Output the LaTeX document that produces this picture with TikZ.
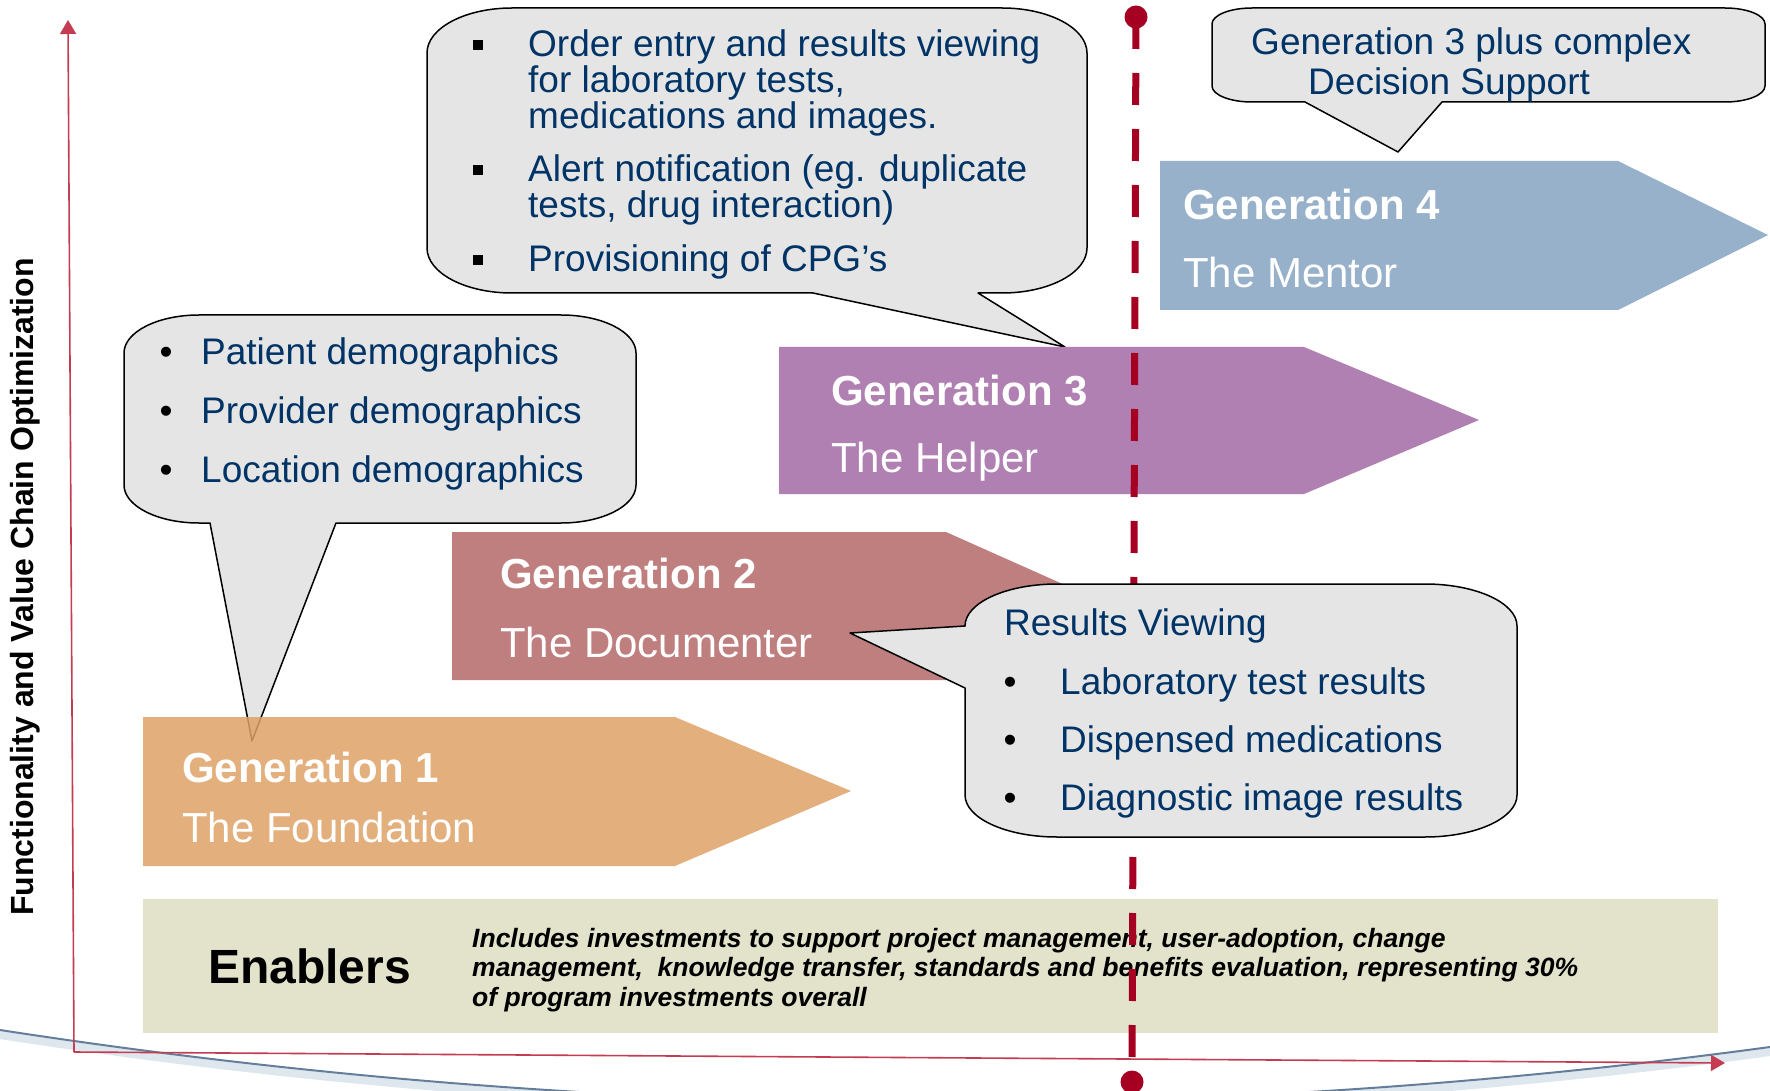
\documentclass[tikz,border=0pt]{standalone}
\usepackage{fontspec}
\setmainfont{Liberation Sans}
\usetikzlibrary{arrows.meta}
\definecolor{navy}{RGB}{0,51,102}
\definecolor{gOrange}{RGB}{223,162,103}
\definecolor{gRose}{RGB}{192,127,127}
\definecolor{gPurple}{RGB}{176,128,178}
\definecolor{gBlue}{RGB}{151,177,203}
\definecolor{bubblefill}{RGB}{229,229,229}
\definecolor{enabfill}{RGB}{227,227,204}
\definecolor{darkred}{RGB}{165,0,33}
\definecolor{axisred}{RGB}{196,60,82}
\definecolor{arcdark}{RGB}{100,125,155}
\definecolor{arclight}{RGB}{200,214,228}
\newcommand{\fsz}[2]{\fontsize{#1}{#2}\selectfont}
% rounded callout, pointer on the bottom edge: L T R B rx ry pointer
\newcommand{\bubbleDown}[7]{%
 \path[bubble] ({#1+#5},#2) -- ({#3-#5},#2) .. controls ({#3-0.448*#5},#2) and (#3,{#2+0.448*#6}) .. (#3,{#2+#6})
 -- (#3,{#4-#6}) .. controls (#3,{#4-0.448*#6}) and ({#3-0.448*#5},#4) .. ({#3-#5},#4)
 -- #7
 -- ({#1+#5},#4) .. controls ({#1+0.448*#5},#4) and (#1,{#4-0.448*#6}) .. (#1,{#4-#6})
 -- (#1,{#2+#6}) .. controls (#1,{#2+0.448*#6}) and ({#1+0.448*#5},#2) .. cycle;}
% rounded callout, pointer on the left edge
\newcommand{\bubbleLeft}[7]{%
 \path[bubble] ({#1+#5},#2) -- ({#3-#5},#2) .. controls ({#3-0.448*#5},#2) and (#3,{#2+0.448*#6}) .. (#3,{#2+#6})
 -- (#3,{#4-#6}) .. controls (#3,{#4-0.448*#6}) and ({#3-0.448*#5},#4) .. ({#3-#5},#4)
 -- ({#1+#5},#4) .. controls ({#1+0.448*#5},#4) and (#1,{#4-0.448*#6}) .. (#1,{#4-#6})
 -- #7
 -- (#1,{#2+#6}) .. controls (#1,{#2+0.448*#6}) and ({#1+0.448*#5},#2) .. cycle;}
\tikzset{
 bubble/.style={fill=bubblefill, draw=black, line width=1.5pt, line join=round},
 btxt/.style={anchor=base west, inner sep=0pt, text=navy, font=\fsz{37}{36}},
 bdot/.style={anchor=base, inner sep=0pt, text=black, font=\fsz{37}{36}},
 sqbul/.style={rectangle, fill=black, minimum size=10pt, inner sep=0pt},
 gentitle/.style={anchor=base west, inner sep=0pt, text=white, font=\fsz{42}{48}\bfseries},
 gensub/.style={anchor=base west, inner sep=0pt, text=white, font=\fsz{42}{48}},
 reddot/.style={circle, fill=darkred, inner sep=0pt, minimum size=23pt},
 dashline/.style={draw=darkred, line width=7pt, dash pattern=on 32pt off 24pt},
 axisline/.style={draw=axisred, line width=1.6pt, -{Triangle[length=14pt,width=16pt]}},
 entxt/.style={anchor=base west, inner sep=0pt, text=black, font=\fsz{26.5}{29}\bfseries\itshape},
}
\begin{document}
\begin{tikzpicture}[x=1pt,y=-1pt]
\useasboundingbox (0,0) rectangle (1770,1091);
\clip (0,0) rectangle (1770,1091);
\fill[white] (0,0) rectangle (1770,1091);

% bottom arc
\draw[line width=8pt, draw=arclight, opacity=0.6] (0,1035) .. controls (590,1126) and (1180,1132) .. (1770,1052);
\draw[line width=2pt, draw=arcdark] (0,1030) .. controls (590,1121) and (1180,1127) .. (1770,1047);

% axes
\coordinate (origin) at (74,1052);
\coordinate (ytip) at (68,20);
\coordinate (xtip) at (1725,1063);
\draw[axisline] (origin) -- (ytip);
\draw[axisline] (origin) -- (xtip);
\node[rotate=90, inner sep=0pt, font=\fsz{32}{36}\bfseries, text=black] (ylabel) at (25,587) {Functionality and Value Chain Optimization};

% enablers band
\fill[enabfill] (143,899) rectangle (1718,1033);
\node[anchor=base west, inner sep=0pt, font=\fsz{48}{50}\bfseries] (enab) at (208,983) {Enablers};
\node[entxt] (en1) at (472,947) {Includes investments to support project management, user-adoption, change};
\node[entxt] (en2) at (472,976) {management,\ \ knowledge transfer, standards and benefits evaluation, representing 30\%};
\node[entxt] (en3) at (472,1006) {of program investments overall};

% callout for generation 1
\bubbleDown{124}{315}{636}{523}{75}{38}{(336,523) -- (252,741) -- (210,523)}
\node[bdot] (ba1) at (166,364) {•};
\node[bdot] (ba2) at (166,423) {•};
\node[bdot] (ba3) at (166,482) {•};
\node[btxt] (ta1) at (201,364) {Patient demographics};
\node[btxt] (ta2) at (201,423) {Provider demographics};
\node[btxt] (ta3) at (201,482) {Location demographics};

% callout for generation 3
\bubbleDown{427}{8}{1087}{293}{85}{45}{(978,293) -- (1065,347) -- (813,293)}
\node[sqbul] (sq1) at (478,45) {};
\node[sqbul] (sq2) at (478,170) {};
\node[sqbul] (sq3) at (478,260) {};
\node[btxt] (tb1) at (528,57) {Order entry and results viewing};
\node[btxt] (tb2) at (528,93) {for laboratory tests,};
\node[btxt] (tb3) at (528,129) {medications and images.};
\node[btxt] (tb4) at (528,182) {Alert notification (eg. duplicate};
\node[btxt] (tb5) at (528,218) {tests, drug interaction)};
\node[btxt] (tb6) at (528,272) {Provisioning of CPG’s};

% generation arrows
\path[fill=gOrange, fill opacity=0.85] (143,717) -- (675,717) -- (851,791) -- (675,866) -- (143,866) -- cycle;
\path[fill=gRose] (452,532) -- (946,532) -- (1112,606) -- (946,680) -- (452,680) -- cycle;
\path[fill=gPurple] (779,347) -- (1304,347) -- (1479,420) -- (1304,494) -- (779,494) -- cycle;
\path[fill=gBlue] (1160,161) -- (1618,161) -- (1768,235) -- (1618,310) -- (1160,310) -- cycle;

\node[gentitle] (g1a) at (182,782) {Generation 1};
\node[gensub] (g1b) at (182,842) {The Foundation};
\node[gentitle] (g2a) at (500,588) {Generation 2};
\node[gensub] (g2b) at (500,657) {The Documenter};
\node[gentitle] (g3a) at (831,405) {Generation 3};
\node[gensub] (g3b) at (831,472) {The Helper};
\node[gentitle] (g4a) at (1183,220) {Generation 4};
\node[gensub] (g4b) at (1183,288) {The Mentor};

% dashed milestone line
\node[reddot] (dtop) at (1136,17) {};
\node[reddot] (dbot) at (1132,1082) {};
\draw[dashline] (dtop.center) -- (dbot.center);

% callout for generation 2
\bubbleLeft{965}{584}{1517}{837}{92}{42}{(965,688) -- (850,633) -- (965,626)}
\node[btxt] (td0) at (1004,635) {Results Viewing};
\node[bdot] (bd1) at (1010,694) {•};
\node[bdot] (bd2) at (1010,752) {•};
\node[bdot] (bd3) at (1010,810) {•};
\node[btxt] (td1) at (1060,694) {Laboratory test results};
\node[btxt] (td2) at (1060,752) {Dispensed medications};
\node[btxt] (td3) at (1060,810) {Diagnostic image results};

% callout for generation 4
\bubbleDown{1212}{8}{1765}{102}{40}{16}{(1442,102) -- (1398,152) -- (1305,102)}
\node[btxt] (tc1) at (1251,55) {Generation 3 plus complex};
\node[btxt] (tc2) at (1308,95) {Decision Support};
\end{tikzpicture}
\end{document}
